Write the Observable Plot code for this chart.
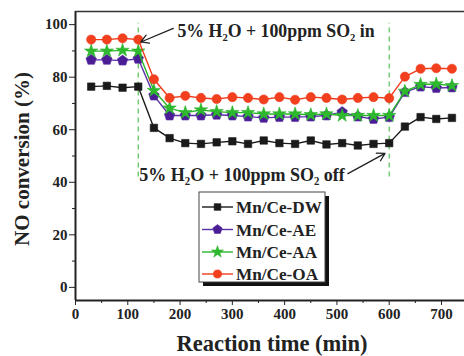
<!DOCTYPE html>
<html><head><meta charset="utf-8">
<script src="https://cdn.jsdelivr.net/npm/d3@7"></script>
<script src="https://cdn.jsdelivr.net/npm/@observablehq/plot@0.6"></script>
<style>
html,body{margin:0;padding:0;background:#fff;}
#chart{position:relative;width:464px;height:356px;}
</style></head>
<body><div id="chart"></div>
<script>
const time = [30,60,90,120,150,180,210,240,270,300,330,360,390,420,450,480,510,540,570,600,630,660,690,720];
const seriesNames = ["Mn/Ce-DW","Mn/Ce-AE","Mn/Ce-AA","Mn/Ce-OA"];
const dw = [76.4,76.7,76.0,76.4,60.7,56.8,54.9,54.6,55.2,55.6,54.6,55.9,54.9,54.6,55.9,54.4,54.9,54.0,54.6,54.9,61.2,64.8,64.1,64.5];
const ae = [86.6,86.6,86.3,87.0,73.0,65.4,65.4,65.4,65.7,65.4,65.0,64.5,64.8,64.8,65.0,65.4,66.7,65.0,64.1,64.8,74.3,76.4,75.9,76.1];
const aa = [89.9,89.9,90.2,89.9,74.9,68.2,66.5,67.5,66.9,66.5,66.5,66.0,66.0,66.0,65.7,66.0,65.4,65.4,65.4,65.4,74.6,77.2,77.4,76.8];
const oa = [94.3,94.3,94.8,94.3,79.2,72.1,72.9,72.1,71.7,72.4,72.1,71.5,72.4,71.4,72.4,72.1,71.5,72.1,72.4,72.0,80.2,83.2,83.4,83.2];
const xTicks = [0,100,200,300,400,500,600,700];
const yTicks = [0,20,40,60,80,100];
const gasTimes = [120,600];
const annIn = "5% H\u2082O + 100ppm SO\u2082 in";
const annOff = "5% H\u2082O + 100ppm SO\u2082 off";

const pentagon = {draw(ctx, size){
  const r = Math.sqrt(size / (2.5*Math.sin(2*Math.PI/5)));
  for (let i=0;i<5;i++){const a=-Math.PI/2+i*2*Math.PI/5; const px=r*Math.cos(a), py=r*Math.sin(a); if(i===0)ctx.moveTo(px,py); else ctx.lineTo(px,py);}
  ctx.closePath();
}};
const styles = [
  {stroke:"#1a1a1a", fill:"#1a1a1a", symbol:d3.symbolSquare, r:4.2},
  {stroke:"#5a30a8", fill:"#4b1d95", symbol:pentagon, r:4.8},
  {stroke:"#2ab52a", fill:"#2eb82e", symbol:d3.symbolStar, r:4.2},
  {stroke:"#f03c1c", fill:"#f2401e", symbol:d3.symbolCircle, r:4.6}
];
const valuesBy = [dw, ae, aa, oa];
const tables = valuesBy.map((v,k)=>time.map((t,i)=>({time:t, value:v[i], series:seriesNames[k]})));

const font = "'Liberation Serif','Times New Roman',serif";
const marks = [];
marks.push(Plot.ruleX(gasTimes, {x:d=>d, y1:42, y2:100.5, stroke:"#55c055", strokeWidth:1.2, strokeDasharray:"5,4"}));
tables.forEach((tb,k)=>{
  const s = styles[k];
  marks.push(Plot.line(tb, {x:"time", y:"value", stroke:s.stroke, strokeWidth:1.4}));
  marks.push(Plot.dot(tb, {x:"time", y:"value", symbol:s.symbol, r:s.r, fill:s.fill, stroke:s.stroke, strokeWidth:0.6}));
});
marks.push(
  Plot.axisX({ticks:xTicks, tickSize:5, tickPadding:3, label:null, fontSize:15, fontWeight:"bold", tickFormat:d=>d}),
  Plot.axisX({ticks:d3.range(50,744,100), tickSize:3, text:null, label:null}),
  Plot.axisY({ticks:yTicks, tickSize:6, tickPadding:2, label:null, fontSize:15, fontWeight:"bold", tickFormat:d=>d}),
  Plot.axisY({ticks:d3.range(10,105,20), tickSize:3, text:null, label:null}),
  Plot.ruleX([0], {stroke:"#222", strokeWidth:2}),
  Plot.ruleY([-5], {stroke:"#222", strokeWidth:2}),
  Plot.ruleY([105], {stroke:"#333", strokeWidth:1.6}),
  Plot.text([annIn], {x:195, y:97.6, text:d=>d, textAnchor:"start", fontSize:17.8, fontWeight:"bold", fill:"#222"}),
  Plot.arrow([0], {x1:187, y1:98.6, x2:125, y2:93.4, stroke:"#222", strokeWidth:1.3, headLength:10}),
  Plot.text([annOff], {x:122, y:42.6, text:d=>d, textAnchor:"start", fontSize:18, fontWeight:"bold", fill:"#222"}),
  Plot.arrow([0], {x1:521, y1:43.3, x2:592, y2:51, stroke:"#222", strokeWidth:1.3, headLength:10}),
  Plot.text(["Reaction time (min)"], {frameAnchor:"bottom", textAnchor:"middle", lineAnchor:"middle", dx:2, dy:43, fontSize:22.5, fontWeight:"bold", fill:"#222"}),
  Plot.text(["NO conversion (%)"], {frameAnchor:"left", textAnchor:"middle", lineAnchor:"middle", rotate:-90, dx:-53, dy:3, fontSize:21, fontWeight:"bold", fill:"#222"})
);

const chart = Plot.plot({
  width:464, height:356,
  marginLeft:75, marginRight:0, marginTop:11, marginBottom:56,
  x:{domain:[0,744]},
  y:{domain:[-5,105]},
  style:{fontFamily:font, color:"#222", background:"#fff"},
  marks
});
document.getElementById("chart").appendChild(chart);

// legend
const svg = d3.select(chart);
const lg = svg.append("g").attr("font-family", font).attr("text-anchor","start");
lg.append("rect").attr("x",203).attr("y",196).attr("width",126).attr("height",90).attr("fill","#111");
lg.append("rect").attr("x",199).attr("y",192).attr("width",126).attr("height",90).attr("fill","#fff").attr("stroke","#444").attr("stroke-width",1);
const rowY = [207,229.5,252,274];
seriesNames.forEach((name,k)=>{
  const s = styles[k], y = rowY[k];
  lg.append("line").attr("x1",202).attr("x2",233).attr("y1",y).attr("y2",y).attr("stroke",s.stroke).attr("stroke-width",1.4);
  lg.append("path").attr("transform",`translate(217.5,${y})`).attr("d", d3.symbol(s.symbol, Math.PI*s.r*s.r*0.8)()).attr("fill",s.fill).attr("stroke",s.stroke).attr("stroke-width",0.6);
  lg.append("text").attr("x",236).attr("y",y).attr("dy","0.35em").attr("text-anchor","start").attr("font-size",17.2).attr("font-weight","bold").attr("fill","#222").text(name);
});
</script></body></html>
